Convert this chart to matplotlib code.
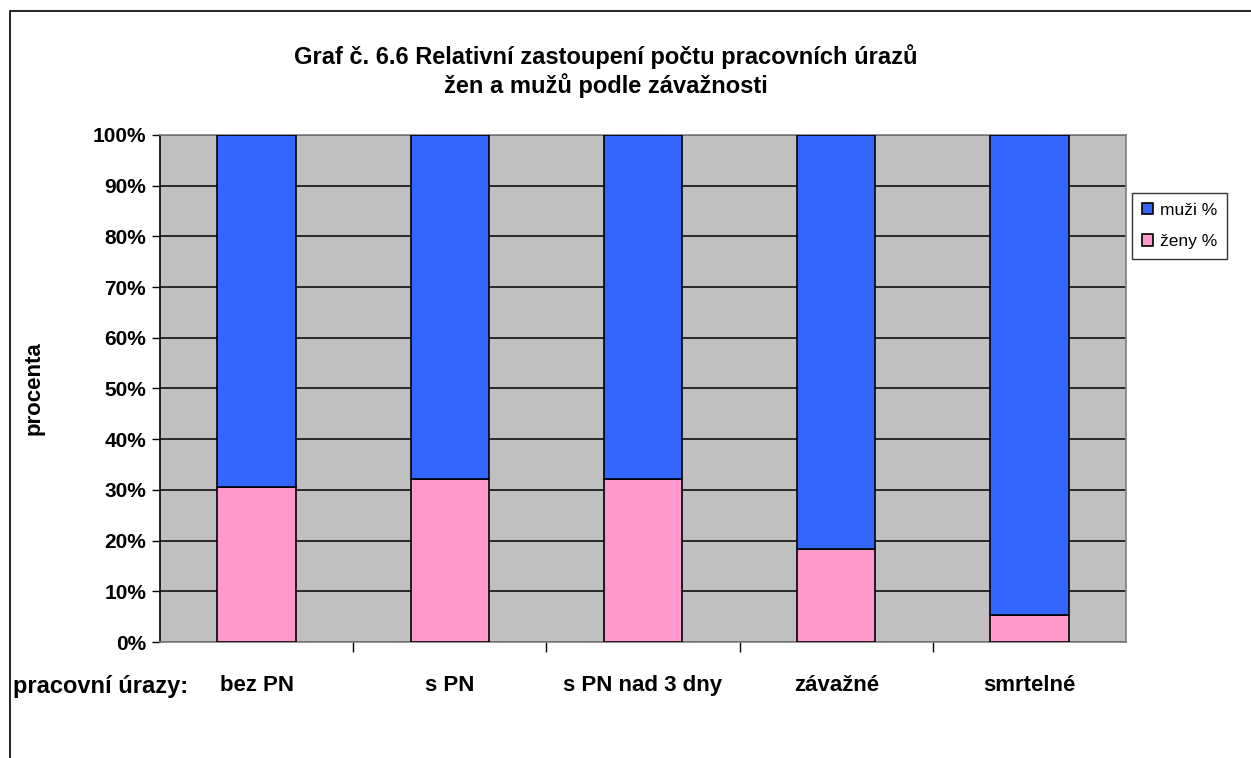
import numpy as np
import matplotlib.pyplot as plt
from matplotlib.patches import Rectangle
from matplotlib.ticker import FuncFormatter

plt.rcParams['font.family'] = ['Liberation Sans', 'DejaVu Sans']

# podíl žen a mužů podle závažnosti úrazu (%)
kategorie = ['bez PN', 's PN', 's PN nad 3 dny', 'závažné', 'smrtelné']
zeny = [30.6, 32.2, 32.2, 18.4, 5.3]
muzi = [100 - z for z in zeny]

W, H = 1251, 758
fig = plt.figure(figsize=(W / 100, H / 100), dpi=100)
fig.patch.set_facecolor('white')

# rámeček grafu (jen horní a levá hrana jsou vidět)
fig.add_artist(Rectangle((10 / W, -0.5), 2, (H - 11) / H + 0.5,
                         transform=fig.transFigure, fill=False,
                         edgecolor='black', lw=1.2))

x0, x1, y0, y1 = 160, 1126, 135, 642
ax = fig.add_axes([x0 / W, (H - y1) / H, (x1 - x0) / W, (y1 - y0) / H])
ax.set_facecolor('#C0C0C0')

x = np.arange(len(kategorie))
ax.bar(x, zeny, width=0.405, color='#FF99CC', edgecolor='black', lw=1.2,
       label='ženy %', zorder=3)
ax.bar(x, muzi, width=0.405, bottom=zeny, color='#3366FF', edgecolor='black',
       lw=1.2, label='muži %', zorder=3)

ax.set_xlim(-0.5, len(kategorie) - 0.5)
ax.set_ylim(0, 100)
ax.set_yticks(np.arange(0, 101, 10))
ax.yaxis.set_major_formatter(FuncFormatter(lambda v, p: f'{v:.0f}%'))
ax.grid(axis='y', color='black', lw=1.1, zorder=1)
ax.tick_params(axis='y', length=6, width=1, labelsize=15, pad=4)
for t in ax.get_yticklabels():
    t.set_fontweight('bold')

# popisky kategorií pod středy sloupců, značky na hranicích
ax.set_xticks(x)
ax.set_xticklabels(kategorie, fontsize=16, fontweight='bold')
ax.tick_params(axis='x', which='major', length=0, pad=24)
ax.set_xticks(np.arange(0.5, len(kategorie) - 1, 1), minor=True)
ax.tick_params(axis='x', which='minor', length=7, width=1, direction='out')

for side in ['top', 'right', 'bottom']:
    ax.spines[side].set_color('#808080')
    ax.spines[side].set_linewidth(1.2)
ax.spines['left'].set_color('black')
ax.spines['left'].set_linewidth(1.2)

ax.set_ylabel('procenta', fontsize=16, fontweight='bold')
ax.yaxis.set_label_coords(-0.12, 0.5)

fig.text(13 / W, 1 - 686 / H, 'pracovní úrazy:', fontsize=17,
         fontweight='bold', ha='left', va='center')

fig.text(606 / W, 1 - 71 / H,
         'Graf č. 6.6 Relativní zastoupení počtu pracovních úrazů\n'
         'žen a mužů podle závažnosti',
         fontsize=17, fontweight='bold', ha='center', va='center',
         linespacing=1.2)

h, l = ax.get_legend_handles_labels()
leg = fig.legend(h[::-1], l[::-1], loc='upper left',
                 bbox_to_anchor=(1132 / W, 1 - 193 / H),
                 fontsize=12.5, frameon=True, fancybox=False,
                 edgecolor='black', handlelength=0.65, handleheight=0.65,
                 handletextpad=0.4, borderpad=0.55, labelspacing=0.95,
                 borderaxespad=0)
leg.get_frame().set_linewidth(1)

fig.savefig('out.png', dpi=100)
